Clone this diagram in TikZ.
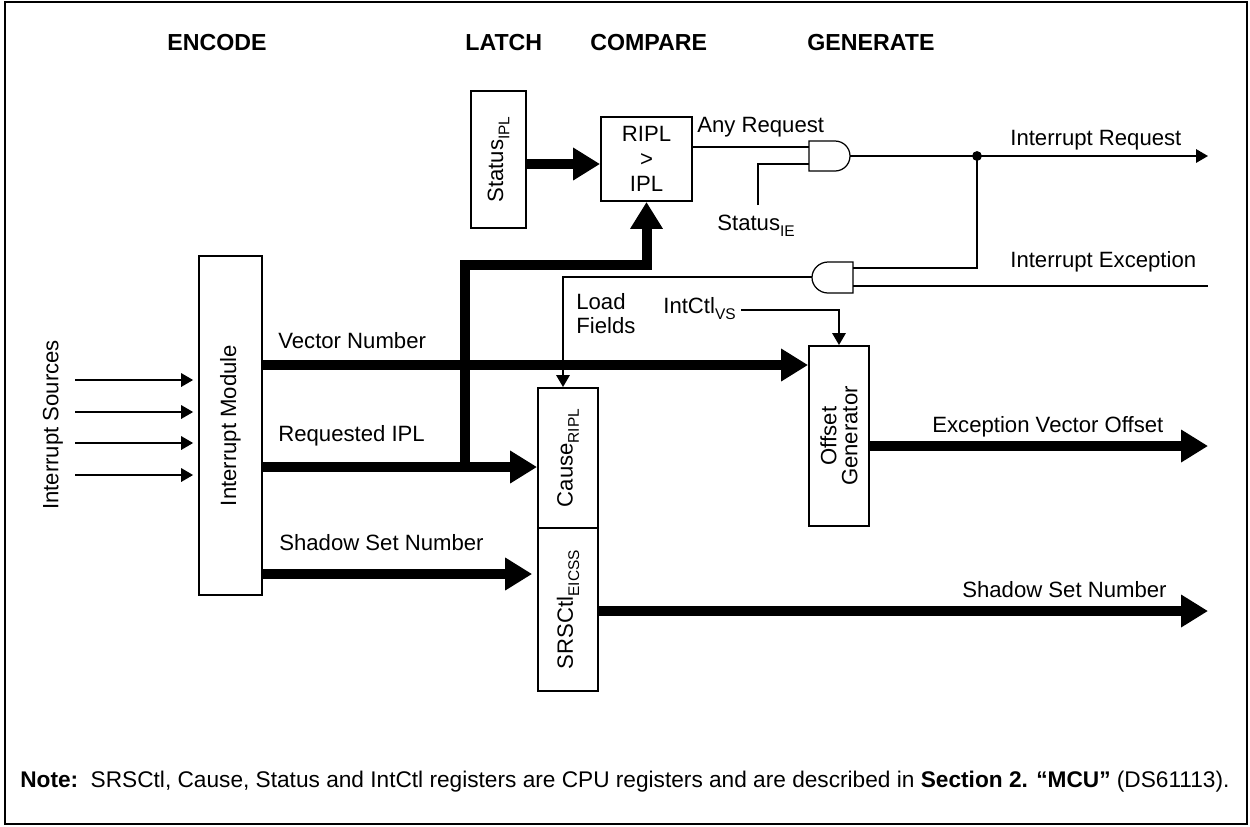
\documentclass[tikz,border=0pt]{standalone}
\usepackage{fontspec}
\setmainfont{Liberation Sans}
\usetikzlibrary{arrows.meta}

\newcommand{\diagfont}{\fontsize{12.6}{14.2}\selectfont}
\newcommand{\fld}[1]{\raisebox{-3.5pt}{\fontsize{8.8}{8.8}\selectfont #1}}

\tikzset{
    blk/.style    = {draw, line width = 1.1pt, inner sep = 0pt},
    sig/.style    = {line width = 1.1pt},
    bus/.style    = {line width = 5.7pt, line join = miter},
    sigarr/.style = {sig, -{Triangle[length = 6.8pt, width = 7.6pt]}},
    busarr/.style = {bus, -{Triangle[length = 15.3pt, width = 17.6pt]}},
    lbl/.style    = {inner sep = 0pt, anchor = base west},
    hdr/.style    = {lbl, font = \fontsize{13.2}{15}\selectfont\bfseries},
    gate/.style   = {draw, line width = 0.7pt, fill = white}
}

\begin{document}
\begin{tikzpicture}[x = 0.02cm, y = -0.02cm, font = \diagfont]

    \useasboundingbox (0, 0) rectangle (1250, 826);
    \draw[line width = 1.1pt] (5, 2) rectangle (1247, 824);

    % stage headings
    \node[hdr] (hEnc) at (167, 50) {ENCODE};
    \node[hdr] (hLat) at (465, 50) {LATCH};
    \node[hdr] (hCmp) at (590, 50) {COMPARE};
    \node[hdr] (hGen) at (807, 50) {GENERATE};

    % register and logic blocks
    \node[blk, minimum width = 1.10cm, minimum height = 2.74cm] (statIPL) at (498.5, 159.5) {};
    \node[rotate = 90] at (statIPL) {Status\fld{IPL}};

    \node[blk, align = center, minimum width = 1.82cm, minimum height = 1.68cm] (ripl) at (646.5, 159) {RIPL\\>\\IPL};

    \node[blk, minimum width = 1.26cm, minimum height = 6.78cm] (intMod) at (230.5, 425.5) {};
    \node[rotate = 90] at (intMod) {Interrupt Module};

    \node[blk, minimum width = 1.20cm, minimum height = 2.80cm] (cause) at (568, 458) {};
    \node[rotate = 90] at (cause) {Cause\fld{RIPL}};

    \node[blk, minimum width = 1.20cm, minimum height = 3.26cm] (srsCtl) at (568, 609.5) {};
    \node[rotate = 90] at (srsCtl) {SRSCtl\fld{EICSS}};

    \node[blk, minimum width = 1.20cm, minimum height = 3.60cm] (offGen) at (839, 436) {};
    \node[rotate = 90, align = center, font = \fontsize{12.6}{12}\selectfont] at (offGen) {Offset\\Generator};

    \node[rotate = 90] (srcLbl) at (53, 425) {Interrupt Sources};

    % AND gates (second one faces left)
    \draw[gate] (809, 141) -- (835, 141) .. controls (843.3, 141) and (850, 147.7) .. (850, 156)
        .. controls (850, 164.3) and (843.3, 171) .. (835, 171) -- (809, 171) -- cycle;
    \coordinate (g1in1) at (809, 147);
    \coordinate (g1in2) at (809, 164);
    \coordinate (g1out) at (850, 156);

    \draw[gate] (853, 262) -- (828, 262) .. controls (819.4, 262) and (812, 269) .. (812, 277.5)
        .. controls (812, 286) and (819.4, 293) .. (828, 293) -- (853, 293) -- cycle;
    \coordinate (g2in1) at (853, 268);
    \coordinate (g2in2) at (853, 286);
    \coordinate (g2out) at (812, 277);

    % free ends
    \coordinate (ie)   at (758, 205);
    \coordinate (jn)   at (977, 156);
    \coordinate (irq)  at (1208, 156);
    \coordinate (iex)  at (1208, 286);
    \coordinate (evo)  at (1208, 446);
    \coordinate (ssn)  at (1208, 611);
    \coordinate (tap)  at (465, 467);

    % interrupt sources
    \foreach \yy in {380, 412, 443, 475} {
        \coordinate (src) at (75, \yy);
        \draw[sigarr, shorten >= 2.8pt] (src) -- (intMod.west |- src);
    }

    % wide data paths
    \draw[busarr] (intMod.east |- 0,365) -- (offGen.west |- 0,365);
    \draw[busarr] (intMod.east |- tap) -- (cause.west |- tap);
    \draw[busarr] (tap) |- (ripl.south |- 0,265) -- (ripl.south);
    \draw[busarr] (intMod.east |- 0,574) -- ([xshift = -2.8pt] srsCtl.west |- 0,574);
    \draw[busarr] (statIPL.east |- 0,164) -- (ripl.west |- 0,164);
    \draw[busarr] (offGen.east |- evo) -- (evo);
    \draw[busarr] (srsCtl.east |- ssn) -- (ssn);

    % control signals
    \draw[sig] (ripl.east |- g1in1) -- (g1in1);
    \draw[sig] (ie) |- (g1in2);
    \draw[sig] (g1out) -- (jn);
    \draw[sigarr] (jn) -- (irq);
    \draw[sig] (jn) |- (g2in1);
    \draw[sig] (g2in2) -- (iex);
    \draw[sigarr] (g2out) -| (cause.north -| 563,0);
    \fill (jn) circle (2.8pt);

    \node[lbl] (vsLbl) at (663, 313) {IntCtl\fld{VS}};
    \draw[sigarr] (vsLbl.east |- 0,310) ++(3pt, 0) -| (offGen.north);

    % signal names
    \node[lbl] (anyReq)  at (697, 132) {Any Request};
    \node[lbl] (ieLbl)   at (717, 230) {Status\fld{IE}};
    \node[lbl] (irqLbl)  at (1010, 145) {Interrupt Request};
    \node[lbl] (iexLbl)  at (1010, 267) {Interrupt Exception};
    \node[lbl] (ldLbl)   at (576, 309) {Load};
    \node[lbl] (fldLbl)  at (576, 333) {Fields};
    \node[lbl] (vecLbl)  at (278, 348) {Vector Number};
    \node[lbl] (reqLbl)  at (278, 441) {Requested IPL};
    \node[lbl] (ssnLbl)  at (279, 550) {Shadow Set Number};
    \node[lbl] (evoLbl)  at (932, 432) {Exception Vector Offset};
    \node[lbl] (ssnOut)  at (962, 597) {Shadow Set Number};

    % footnote
    \node[lbl, font = \fontsize{12.9}{15}\selectfont] (note) at (20, 787) {\textbf{Note:}\hspace{0.55em}SRSCtl, Cause, Status and IntCtl registers are CPU registers and are described in \textbf{Section 2. “MCU”} (DS61113).};

\end{tikzpicture}
\end{document}
